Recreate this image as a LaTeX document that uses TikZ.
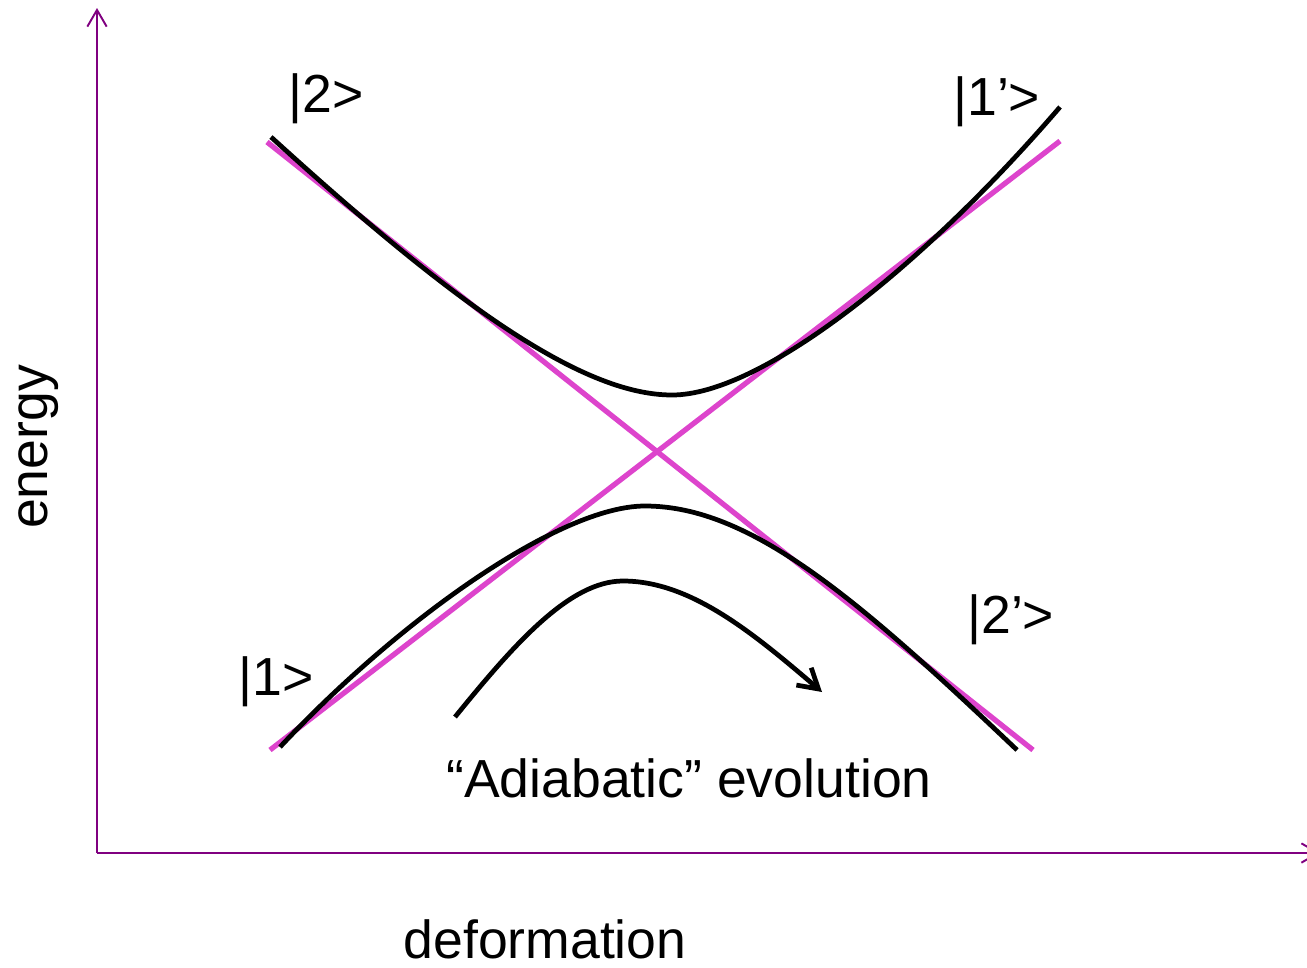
\documentclass[tikz,border=0pt]{standalone}
\usepackage{fontspec}
\setmainfont{Liberation Sans}
\usetikzlibrary{arrows.meta}
\definecolor{axispurple}{RGB}{128,0,128}
\definecolor{crossing}{RGB}{221,68,204}
\tikzset{
  % axes of the plot
  axis/.style    = {draw=axispurple, line width=1.1pt,
                    -{Straight Barb[length=9.5pt,width=11pt,line width=1.1pt]}},
  % crossing (diabatic) levels
  diab/.style    = {draw=crossing, line width=3pt},
  % avoided-crossing (adiabatic) levels
  adiab/.style   = {draw=black, line width=2.7pt},
  % evolution arrow
  evol/.style    = {draw=black, line width=2.7pt,
                    -{Straight Barb[length=11pt,width=13pt,line width=2.7pt]}},
  % state and axis labels
  lbl/.style     = {font=\fontsize{30.5}{36}\selectfont, inner sep=0pt},
}
\begin{document}
\begin{tikzpicture}[x=0.02cm, y=-0.02cm]

  \clip (0,0) rectangle (1307,967);

  % --- axes ---
  \coordinate (origin) at (97,853);
  \coordinate (ytop)   at (97,8);
  \coordinate (xend)   at (1320,853);
  \draw[axis] (origin) -- (ytop);
  \draw[axis] (origin) -- (xend);

  % --- crossing levels ---
  \draw[diab] (267,142) -- (1033,750);
  \draw[diab] (270,750) -- (1060,141);

  % --- avoided crossing: upper and lower branch ---
  \draw[adiab] (271,137) .. controls (450,300) and (580,395) .. (672,395)
                         .. controls (760,395) and (920,270) .. (1060,107);
  \draw[adiab] (280,747) .. controls (400,619) and (560,506) .. (645,506)
                         .. controls (750,506) and (857,598) .. (1017,750);

  % --- adiabatic evolution arrow ---
  \draw[evol] (455,717) .. controls (515,643) and (570,581) .. (623,581)
                        .. controls (690,581) and (752,632) .. (822,692);

  % --- labels ---
  \node[lbl, anchor=base west] (s2)  at (288,112) {|2>};
  \node[lbl, anchor=base west] (s1p) at (953,115) {|1’>};
  \node[lbl, anchor=base west] (s1)  at (238,695) {|1>};
  \node[lbl, anchor=base west] (s2p) at (967,633) {|2’>};
  \node[lbl, anchor=base] (evo) at (689,797) {“Adiabatic” evolution};
  \node[lbl, anchor=base] (xlab) at (545,958) {deformation};
  \node[lbl, anchor=base, rotate=90] (ylab) at (47,447) {energy};

\end{tikzpicture}
\end{document}
